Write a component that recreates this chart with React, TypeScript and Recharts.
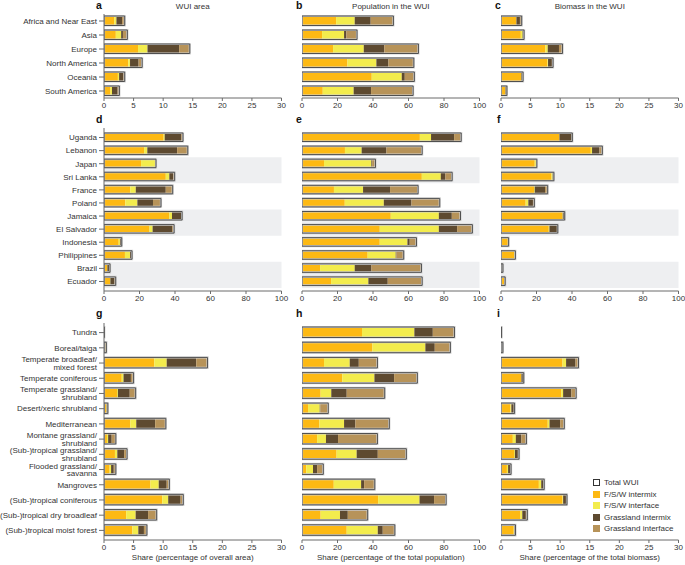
import React from 'react';
import { BarChart, Bar, XAxis, YAxis, ReferenceArea } from 'recharts';

const regions = ['Africa and Near East', 'Asia', 'Europe', 'North America', 'Oceania', 'South America'];
const countries = ['Uganda', 'Lebanon', 'Japan', 'Sri Lanka', 'France', 'Poland', 'Jamaica', 'El Salvador', 'Indonesia', 'Philippines', 'Brazil', 'Ecuador'];
const biomes = [
  'Tundra',
  'Boreal/taiga',
  'Temperate broadleaf/\nmixed forest',
  'Temperate coniferous',
  'Temperate grassland/\nshrubland',
  'Desert/xeric shrubland',
  'Mediterranean',
  'Montane grassland/\nshrubland',
  '(Sub-)tropical grassland/\nshrubland',
  'Flooded grassland/\nsavanna',
  'Mangroves',
  '(Sub-)tropical coniferous',
  '(Sub-)tropical dry broadleaf',
  '(Sub-)tropical moist forest',
];

const seriesNames = ['F/S/W intermix', 'F/S/W interface', 'Grassland intermix', 'Grassland interface'];
const seriesColors = ['#fdb913', '#f3ec4d', '#5e4a30', '#b79359'];

// each row: [F/S/W intermix, F/S/W interface, grassland intermix, grassland interface]
const areaByRegion = [
  [1.75, 0.35, 0.95, 0.45],
  [2.0, 0.9, 0.3, 0.75],
  [5.75, 1.6, 5.35, 1.8],
  [4.1, 0.3, 1.45, 0.6],
  [2.35, 0.2, 0.75, 0.2],
  [1.1, 0.25, 0.95, 0.3],
];
const popByRegion = [
  [19.2, 10.5, 9.0, 12.8],
  [11.3, 12.4, 1.3, 6.0],
  [17.5, 17.3, 11.6, 19.2],
  [25.6, 16.3, 6.8, 14.3],
  [39.3, 16.9, 1.7, 5.4],
  [11.7, 17.4, 9.8, 23.7],
];
const biomassByRegion = [
  [2.55, 0.05, 0.6, 0.3],
  [3.35, 0.3, 0.15, 0.1],
  [7.5, 0.4, 1.9, 0.6],
  [7.85, 0.1, 0.65, 0.2],
  [3.4, 0.05, 0.25, 0.03],
  [0.7, 0.05, 0.2, 0.05],
];

const areaByCountry = [
  [33.6, 0.6, 9.4, 0.9],
  [22.6, 1.8, 16.8, 6.0],
  [20.9, 8.0, 0.2, 0.2],
  [34.8, 2.0, 2.3, 0.7],
  [14.8, 3.1, 16.9, 3.9],
  [12.0, 6.8, 8.8, 4.5],
  [36.8, 1.5, 5.3, 0.4],
  [25.6, 1.8, 11.1, 1.0],
  [8.3, 0.7, 0.8, 0.2],
  [11.8, 2.9, 0.9, 0.2],
  [1.7, 0.2, 1.3, 0.2],
  [3.4, 0.2, 2.4, 0.6],
];
const popByCountry = [
  [66.4, 6.3, 13.0, 4.0],
  [24.2, 9.4, 14.0, 20.1],
  [12.4, 26.7, 0.4, 1.9],
  [67.5, 10.7, 2.6, 3.8],
  [18.0, 16.4, 15.2, 15.8],
  [24.1, 22.0, 15.6, 15.9],
  [50.0, 27.1, 7.3, 4.9],
  [43.8, 33.3, 10.3, 8.6],
  [43.8, 15.6, 1.3, 3.8],
  [37.0, 15.8, 0.4, 4.1],
  [10.2, 19.5, 9.4, 28.2],
  [16.4, 21.0, 10.9, 19.4],
];
const biomassByCountry = [
  [32.7, 0.2, 7.1, 0.2],
  [50.6, 0.7, 4.2, 1.6],
  [19.0, 0.9, 0.2, 0.1],
  [28.4, 0.7, 0.6, 0.1],
  [18.6, 0.4, 5.8, 1.5],
  [13.9, 1.5, 2.6, 0.8],
  [34.6, 0.2, 0.9, 0.2],
  [26.9, 0.4, 4.5, 0.2],
  [4.1, 0.1, 0.05, 0.05],
  [7.7, 0.2, 0.1, 0.1],
  [0.75, 0.05, 0.25, 0.05],
  [1.9, 0.1, 0.3, 0.05],
];

const areaByBiome = [
  [0.02, 0.0, 0.02, 0.01],
  [0.35, 0.02, 0.03, 0.0],
  [8.5, 2.1, 5.0, 1.9],
  [3.0, 0.3, 1.25, 0.45],
  [2.2, 0.15, 2.0, 1.0],
  [0.4, 0.05, 0.15, 0.05],
  [4.45, 1.0, 3.2, 1.8],
  [0.5, 0.2, 0.6, 0.7],
  [1.85, 0.4, 1.15, 0.5],
  [0.95, 0.25, 0.45, 0.35],
  [7.85, 1.4, 1.35, 0.45],
  [9.85, 1.0, 2.1, 0.45],
  [3.75, 1.6, 2.1, 1.45],
  [4.8, 1.0, 0.95, 0.5],
];
const popByBiome = [
  [33.8, 29.5, 10.4, 12.2],
  [39.7, 29.8, 5.3, 8.8],
  [12.4, 14.5, 5.1, 10.5],
  [22.7, 18.1, 11.1, 13.1],
  [10.5, 6.0, 8.7, 21.4],
  [3.4, 6.6, 0.3, 4.5],
  [9.8, 13.9, 6.4, 19.1],
  [8.5, 5.0, 6.8, 22.2],
  [19.5, 11.3, 11.9, 16.1],
  [2.4, 3.8, 2.3, 3.5],
  [17.9, 15.4, 1.7, 6.0],
  [42.9, 23.3, 8.2, 6.8],
  [10.5, 10.9, 4.4, 11.2],
  [25.2, 17.5, 2.8, 6.8],
];
const biomassByBiome = [
  [0.05, 0.0, 0.03, 0.02],
  [0.3, 0.0, 0.02, 0.0],
  [10.4, 0.6, 1.6, 0.5],
  [3.4, 0.05, 0.35, 0.05],
  [10.2, 0.3, 1.4, 0.8],
  [1.6, 0.15, 0.45, 0.1],
  [7.9, 0.3, 1.8, 0.7],
  [2.0, 0.5, 0.95, 0.85],
  [2.2, 0.15, 0.5, 0.2],
  [1.0, 0.2, 0.4, 0.1],
  [6.4, 0.4, 0.45, 0.05],
  [10.4, 0.1, 0.6, 0.05],
  [3.3, 0.3, 0.6, 0.25],
  [2.15, 0.1, 0.15, 0.05],
];

const ticks30 = [0, 5, 10, 15, 20, 25, 30];
const ticks100 = [0, 20, 40, 60, 80, 100];
const shadedCountries = [['Japan', 'Sri Lanka'], ['Jamaica', 'El Salvador'], ['Brazil', 'Ecuador']];

const FONT = "'Liberation Sans', Arial, Helvetica, sans-serif";
const AXIS = '#6b6b6b';
const TEXT = '#333';
const FS = 8;

const CategoryTick = ({ x, y, payload }: any) => {
  const lines = String(payload.value).split('\n');
  const lh = 7.6;
  return (
    <text x={x} y={y} textAnchor="end" fontSize={FS} fill={TEXT}>
      {lines.map((l, i) => (
        <tspan key={i} x={x} y={y + (i - (lines.length - 1) / 2) * lh} dy="0.35em">
          {l}
        </tspan>
      ))}
    </text>
  );
};

interface PanelProps {
  x: number;
  y: number;
  w: number;
  h: number;
  labelWidth: number;
  cats: string[];
  rows: number[][];
  max: number;
  ticks: number[];
  barSize: number;
  pad: number;
  bands?: string[][];
}

function Panel({ x, y, w, h, labelWidth, cats, rows, max, ticks, barSize, pad, bands }: PanelProps) {
  const data = rows.map((r, i) => ({
    name: cats[i],
    s0: r[0],
    s1: r[1],
    s2: r[2],
    s3: r[3],
    total: r[0] + r[1] + r[2] + r[3],
  }));
  const right = 14;
  const left = labelWidth > 0 ? 0 : 10;
  const xAxisH = 18;
  return (
    <div style={{ position: 'absolute', left: x - labelWidth - left, top: y }}>
      <BarChart
        width={left + labelWidth + w + right}
        height={h + xAxisH}
        data={data}
        layout="vertical"
        barSize={barSize}
        barGap={-barSize}
        margin={{ top: 0, right, bottom: 0, left }}
      >
        <XAxis
          type="number"
          domain={[0, max]}
          ticks={ticks}
          interval={0}
          height={xAxisH}
          tickSize={3}
          tickMargin={1}
          tick={{ fontSize: FS, fill: TEXT }}
          axisLine={{ stroke: AXIS }}
          tickLine={{ stroke: AXIS }}
          allowDataOverflow
        />
        <YAxis
          type="category"
          dataKey="name"
          width={labelWidth}
          padding={{ top: pad, bottom: pad }}
          tick={labelWidth > 0 ? <CategoryTick /> : false}
          tickLine={labelWidth > 0 ? { stroke: AXIS } : false}
          tickSize={5}
          tickMargin={2}
          interval={0}
          axisLine={{ stroke: AXIS }}
        />
        {(bands || []).map(([a, b]) => (
          <ReferenceArea key={a} y1={a} y2={b} fill="#eeeff1" fillOpacity={1} stroke="none" ifOverflow="visible" />
        ))}
        {seriesNames.map((n, i) => (
          <Bar key={n} dataKey={`s${i}`} name={n} stackId="seg" fill={seriesColors[i]} isAnimationActive={false} />
        ))}
        <Bar dataKey="total" name="Total halo" stackId="halo" fill="none" stroke="#d2d2d2" strokeWidth={2.2} isAnimationActive={false} />
        <Bar dataKey="total" name="Total WUI" stackId="outline" fill="none" stroke="#505050" strokeWidth={1} isAnimationActive={false} />
      </BarChart>
    </div>
  );
}

const Label = ({ x, y, children, bold, size, center }: any) => (
  <div
    style={{
      position: 'absolute',
      left: x,
      top: y,
      fontSize: size || FS,
      fontWeight: bold ? 700 : 400,
      lineHeight: 1,
      whiteSpace: 'nowrap',
      color: bold ? '#111' : TEXT,
      transform: center ? 'translateX(-50%)' : undefined,
    }}
  >
    {children}
  </div>
);

const C1 = 104;
const C2 = 302;
const C3 = 501;
const W = 177.5;

export default function App() {
  const legendItems = [{ name: 'Total WUI', color: '#fff' }].concat(
    seriesNames.map((n, i) => ({ name: n, color: seriesColors[i] }))
  );
  return (
    <div
      style={{
        position: 'absolute',
        left: 0,
        top: 0,
        width: 685,
        height: 565,
        background: '#fff',
        fontFamily: FONT,
        overflow: 'hidden',
      }}
    >
      {/* row 1: regions */}
      <Panel x={C1} y={14} w={W} h={84} labelWidth={C1} cats={regions} rows={areaByRegion} max={30} ticks={ticks30} barSize={9.5} pad={0} />
      <Panel x={C2} y={14} w={W} h={84} labelWidth={0} cats={regions} rows={popByRegion} max={100} ticks={ticks100} barSize={9.5} pad={0} />
      <Panel x={C3} y={14} w={W} h={84} labelWidth={0} cats={regions} rows={biomassByRegion} max={30} ticks={ticks30} barSize={9.5} pad={0} />

      {/* row 2: countries */}
      <Panel x={C1} y={128} w={W} h={163} labelWidth={C1} cats={countries} rows={areaByCountry} max={100} ticks={ticks100} barSize={8.5} pad={3} bands={shadedCountries} />
      <Panel x={C2} y={128} w={W} h={163} labelWidth={0} cats={countries} rows={popByCountry} max={100} ticks={ticks100} barSize={8.5} pad={3} bands={shadedCountries} />
      <Panel x={C3} y={128} w={W} h={163} labelWidth={0} cats={countries} rows={biomassByCountry} max={100} ticks={ticks100} barSize={8.5} pad={3} bands={shadedCountries} />

      {/* row 3: biomes */}
      <Panel x={C1} y={323} w={W} h={217} labelWidth={C1} cats={biomes} rows={areaByBiome} max={30} ticks={ticks30} barSize={10.5} pad={2} />
      <Panel x={C2} y={323} w={W} h={217} labelWidth={0} cats={biomes} rows={popByBiome} max={100} ticks={ticks100} barSize={10.5} pad={2} />
      <Panel x={C3} y={323} w={W} h={217} labelWidth={0} cats={biomes} rows={biomassByBiome} max={30} ticks={ticks30} barSize={10.5} pad={2} />

      <Label x={96} y={0} bold size={10.5}>a</Label>
      <Label x={296} y={0} bold size={10.5}>b</Label>
      <Label x={495} y={0} bold size={10.5}>c</Label>
      <Label x={96} y={114} bold size={10.5}>d</Label>
      <Label x={296} y={114} bold size={10.5}>e</Label>
      <Label x={497} y={114} bold size={10.5}>f</Label>
      <Label x={96} y={308} bold size={10.5}>g</Label>
      <Label x={296} y={308} bold size={10.5}>h</Label>
      <Label x={497} y={308} bold size={10.5}>i</Label>

      <Label x={C1 + W / 2} y={3} center>WUI area</Label>
      <Label x={C2 + W / 2} y={3} center>Population in the WUI</Label>
      <Label x={C3 + W / 2} y={3} center>Biomass in the WUI</Label>

      <Label x={C1 + W / 2} y={554} center>Share (percentage of overall area)</Label>
      <Label x={C2 + W / 2} y={554} center>Share (percentage of the total population)</Label>
      <Label x={C3 + W / 2} y={554} center>Share (percentage of the total biomass)</Label>

      <div style={{ position: 'absolute', left: 593, top: 477 }}>
        {legendItems.map((it, i) => (
          <div key={it.name} style={{ display: 'flex', alignItems: 'center', height: 11.5, fontSize: FS, color: TEXT }}>
            <span
              style={{
                display: 'inline-block',
                width: 7,
                height: 7,
                background: it.color,
                border: i === 0 ? '1px solid #333' : 'none',
                boxSizing: 'border-box',
                marginRight: 4,
              }}
            />
            {it.name}
          </div>
        ))}
      </div>
    </div>
  );
}
